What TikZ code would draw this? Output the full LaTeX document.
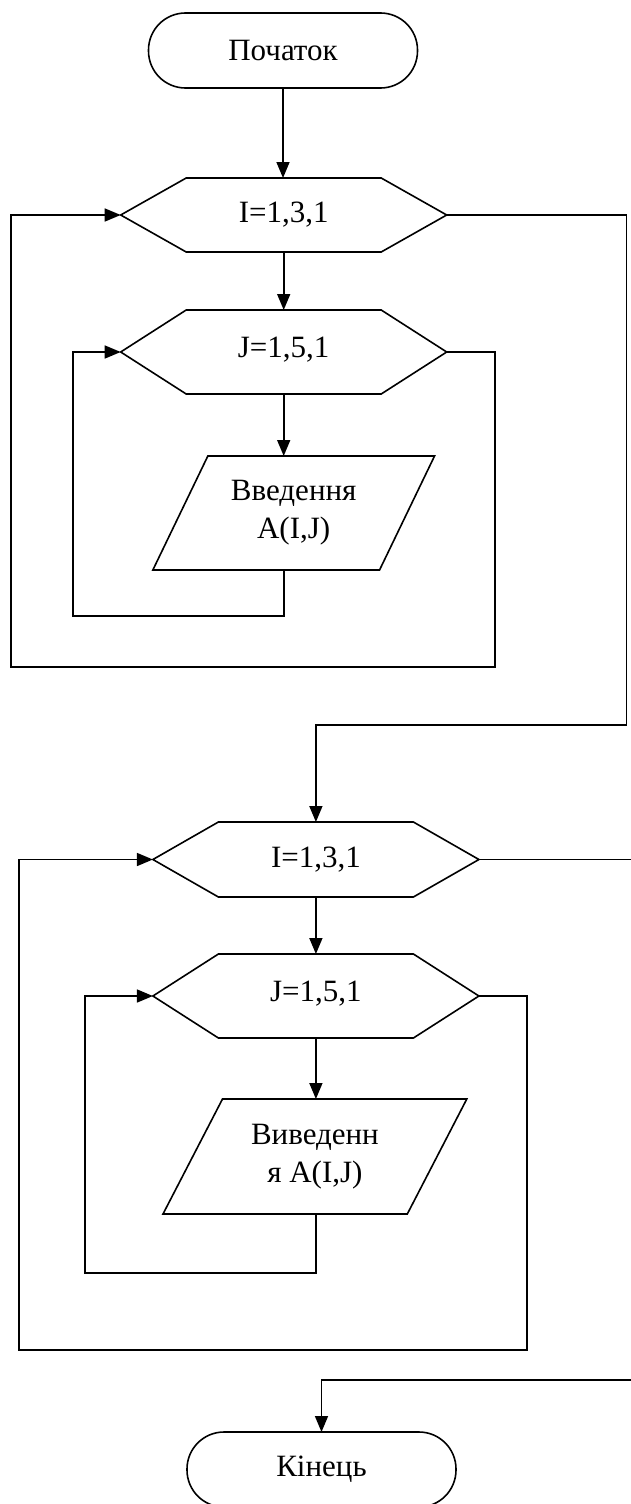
\documentclass[tikz,border=0pt]{standalone}
\usepackage{fontspec}
\setmainfont{Liberation Serif}
\usetikzlibrary{arrows.meta,calc}
\newcommand\hexoutline[2]{\draw[line] ($(#1.north west)+(#2,0)$) -- ($(#1.north east)+(-#2,0)$) -- (#1.east) -- ($(#1.south east)+(-#2,0)$) -- ($(#1.south west)+(#2,0)$) -- (#1.west) -- cycle;}
\newcommand\paraoutline[2]{\draw[line] ($(#1.north west)+(#2,0)$) -- (#1.north east) -- ($(#1.south east)+(-#2,0)$) -- (#1.south west) -- cycle;}
\begin{document}
\begin{tikzpicture}[x=1pt,y=1pt,
  line/.style={line width=1.6pt, line join=miter},
  conn/.style={line width=1.6pt, -{Triangle[length=16pt,width=13pt]}},
  box/.style={inner sep=0pt, outer sep=0pt, align=center, font=\fontsize{31}{38}\selectfont},
  term/.style={box, draw, line width=1.6pt, rounded corners=37pt, minimum width=269pt, minimum height=75pt}]
\clip (0,0) rectangle (631,-1504);
\fill[white] (0,0) rectangle (631,-1504);
% first block
\node[term] (start) at (283,-50.5) {Початок};
\node[box, minimum width=326pt, minimum height=74pt] (i1) at (283.7,-215) {I=1,3,1};
\node[box, minimum width=326pt, minimum height=84pt] (j1) at (283.7,-352) {\raisebox{10pt}{J=1,5,1}};
\node[box, minimum width=281.7pt, minimum height=114pt] (p1) at (293.7,-513) {Введення\\A(I,J)};
\hexoutline{i1}{65.5}
\hexoutline{j1}{65.5}
\paraoutline{p1}{55}
\coordinate (c1) at (72.8,-616);
\coordinate (c2) at (495,-667);
\coordinate (c3) at (10.9,-215);
\coordinate (c4) at (626.6,-725);
\draw[conn] (start.south) -- (start.south |- i1.north);
\draw[conn] (i1.south) -- (j1.north);
\draw[conn] (j1.south) -- (j1.south |- p1.north);
\draw[conn] (j1.south |- p1.south) |- (c1) |- (j1.west);
\draw[conn] (j1.east) -| (c2) -| (c3) -- (i1.west);
% second block
\node[box, minimum width=326pt, minimum height=75pt] (i2) at (315.9,-859.5) {I=1,3,1};
\node[box, minimum width=326pt, minimum height=84pt] (j2) at (315.9,-996) {\raisebox{10pt}{J=1,5,1}};
\node[box, minimum width=303.8pt, minimum height=115pt] (p2) at (314.9,-1156.5) {Виведенн\\я A(I,J)};
\hexoutline{i2}{65.5}
\hexoutline{j2}{65.5}
\paraoutline{p2}{59.5}
\node[term] (end) at (321.5,-1469.5) {Кінець};
\coordinate (c5) at (84.9,-1273);
\coordinate (c6) at (527.2,-1350);
\coordinate (c7) at (18.9,-859.5);
\coordinate (c8) at (645,-1380);
\draw[conn] (i1.east) -| (c4) -| (i2.north);
\draw[conn] (i2.south) -- (j2.north);
\draw[conn] (j2.south) -- (j2.south |- p2.north);
\draw[conn] (j2.south |- p2.south) |- (c5) |- (j2.west);
\draw[conn] (j2.east) -| (c6) -| (c7) -- (i2.west);
\draw[conn] (i2.east) -| (c8) -| (end.north);
\end{tikzpicture}
\end{document}
